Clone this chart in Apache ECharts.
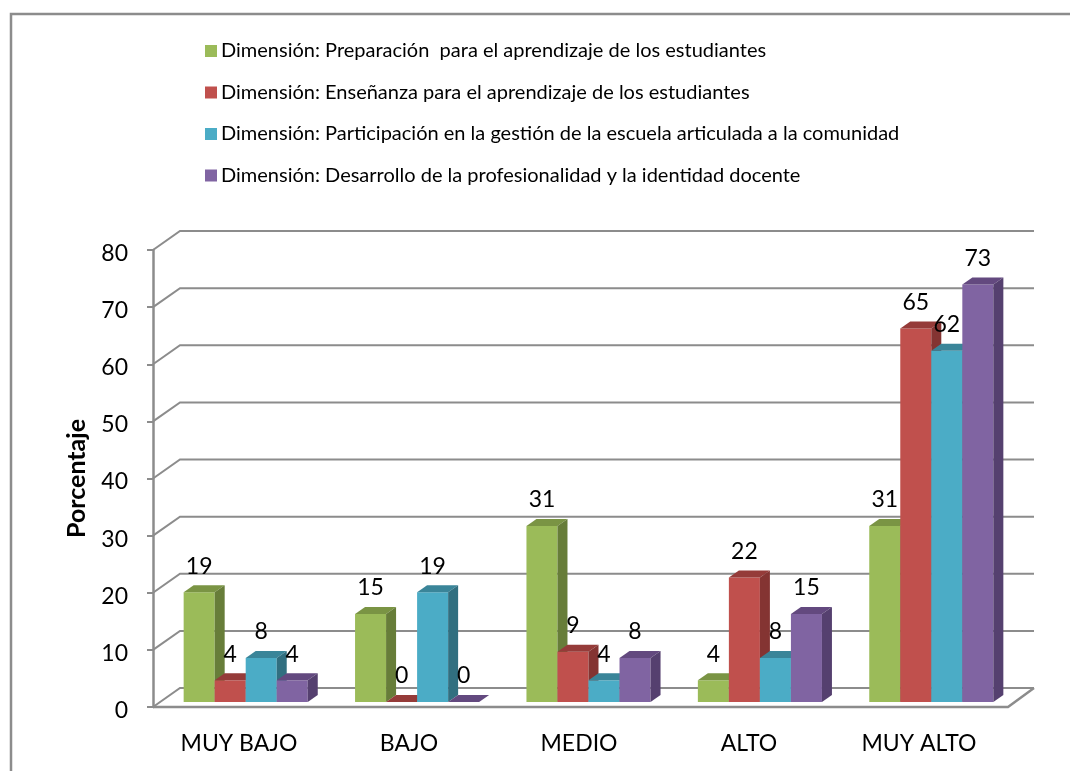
<!DOCTYPE html>
<html lang="es">
<head>
  <meta charset="UTF-8">
  <title>Dimensiones</title>
  <style>html,body{margin:0;padding:0;background:#fff}</style>
</head>
<body>
<div id="main" style="width: 1070px;height: 771px"></div>
<script type="text/javascript" src="https://cdn.jsdelivr.net/npm/echarts@6/dist/echarts.min.js"></script>
<script>
var categories = ['MUY BAJO', 'BAJO', 'MEDIO', 'ALTO', 'MUY ALTO'];
var yTicks = [0, 10, 20, 30, 40, 50, 60, 70, 80];
var seriesNames = [
  'Dimensión: Preparación  para el aprendizaje de los estudiantes',
  'Dimensión: Enseñanza para el aprendizaje de los estudiantes',
  'Dimensión: Participación en la gestión de la escuela articulada a la comunidad',
  'Dimensión: Desarrollo de la profesionalidad y la identidad docente'
];
// bar heights, labels show them rounded
var preparacion = [19.2, 15.4, 30.8, 3.8, 30.8];
var ensenanza = [3.8, 0, 8.8, 21.8, 65.4];
var participacion = [7.7, 19.2, 3.8, 7.7, 61.5];
var desarrollo = [3.8, 0, 7.7, 15.4, 73.1];
var seriesValues = [preparacion, ensenanza, participacion, desarrollo];
var frontColors = ['#9BBB59', '#C0504D', '#4BACC6', '#8064A2'];
var topColors = ['#7A9444', '#953B39', '#3A8599', '#63497F'];
var sideColors = ['#677D39', '#843432', '#316F80', '#55406F'];

var FONT = 'Lato, "Open Sans", sans-serif';
var GRAY = '#8C8C8C';

// pseudo 3d: walls go back by (26,-19), bars stand a bit in from the front edge
function renderWalls(params, api) {
  var sys = params.coordSys;
  var y = api.coord([0, api.value(0)])[1];
  var x0 = sys.x, x1 = sys.x + sys.width - 2;
  var children = [{
    type: 'polyline',
    shape: { points: [[x0, y], [x0 + 27, y - 19], [x1 + 26, y - 19]] },
    style: { stroke: GRAY, lineWidth: 2, fill: null }
  }];
  if (api.value(0) === 0) {
    children.push({
      type: 'polyline',
      shape: { points: [[x0, y], [x1, y], [x1 + 26, y - 19]] },
      style: { stroke: GRAY, lineWidth: 2.5, fill: null }
    });
  }
  return { type: 'group', children: children };
}

function makeRenderBar(s) {
  return function (params, api) {
    var base = api.coord([api.value(0), 0]);
    var top = api.coord([api.value(0), api.value(1)]);
    var band = api.size([1, 0])[0];
    var w = band * 0.181;
    var x = base[0] + 7 + (s - 2) * w;
    var yb = base[1] - 5;
    var yt = top[1] - 5;
    var dx = 10, dy = -7;
    return {
      type: 'group',
      children: [
        { type: 'rect', shape: { x: x, y: yt, width: w, height: yb - yt }, style: { fill: frontColors[s] } },
        { type: 'polygon', shape: { points: [[x, yt], [x + dx, yt + dy], [x + w + dx, yt + dy], [x + w, yt]] }, style: { fill: topColors[s] } },
        { type: 'polygon', shape: { points: [[x + w, yt], [x + w + dx, yt + dy], [x + w + dx, yb + dy], [x + w, yb]] }, style: { fill: sideColors[s] } },
        {
          type: 'text',
          z2: 10,
          style: {
            text: String(Math.round(api.value(1))), x: x + w / 2, y: yt - 26,
            align: 'center', verticalAlign: 'middle',
            font: '23px ' + FONT, fill: '#000'
          }
        }
      ]
    };
  };
}

var series = [{
  type: 'custom',
  silent: true,
  renderItem: renderWalls,
  data: yTicks.map(function (v) { return [v]; }),
  encode: { y: 0 },
  z: 1
}];
seriesValues.forEach(function (vals, s) {
  series.push({
    type: 'custom',
    name: seriesNames[s],
    renderItem: makeRenderBar(s),
    itemStyle: { color: frontColors[s] },
    data: vals.map(function (v, i) { return [i, v]; }),
    encode: { x: 0, y: 1 },
    z: 2 + s
  });
});

var option = {
  animation: false,
  backgroundColor: '#fff',
  legend: {
    orient: 'vertical',
    left: 200,
    top: 36,
    data: seriesNames,
    icon: 'rect',
    itemWidth: 12,
    itemHeight: 12,
    itemGap: 21.5,
    textStyle: { fontFamily: FONT, fontSize: 20, color: '#000', padding: [0, 0, 0, -1] }
  },
  grid: [
    { left: 153, top: 250, width: 857, height: 457 },
    { left: 154, top: 250, width: 850, height: 457 }
  ],
  xAxis: [
    { type: 'category', gridIndex: 0, data: categories, axisLine: { show: false }, axisTick: { show: false }, axisLabel: { show: false } },
    { type: 'category', gridIndex: 1, data: categories, axisLine: { show: false }, axisTick: { show: false }, axisLabel: { fontFamily: FONT, fontSize: 23, color: '#000', margin: 25 } }
  ],
  yAxis: [
    {
      type: 'value', gridIndex: 0, min: 0, max: 80, interval: 10,
      name: 'Porcentaje', nameLocation: 'middle', nameGap: 64, nameRotate: 90,
      nameTextStyle: { fontFamily: FONT, fontSize: 25, fontWeight: 'bold', color: '#000' },
      axisLine: { show: true, lineStyle: { color: GRAY, width: 2.5 } },
      axisTick: { show: true, length: 6, lineStyle: { color: GRAY, width: 2 } },
      axisLabel: { fontFamily: FONT, fontSize: 23, color: '#000', margin: 25, verticalAlign: 'top', lineHeight: 7 },
      splitLine: { show: false }
    },
    { type: 'value', gridIndex: 1, min: 0, max: 80, show: false, splitLine: { show: false } }
  ],
  graphic: [{
    type: 'rect',
    silent: true,
    shape: { x: 11, y: 14, width: 1200, height: 900 },
    style: { fill: null, stroke: '#8C8C8C', lineWidth: 2.5 }
  }],
  series: series
};

var myChart = echarts.init(document.getElementById('main'));
myChart.setOption(option);
</script>
</body>
</html>
